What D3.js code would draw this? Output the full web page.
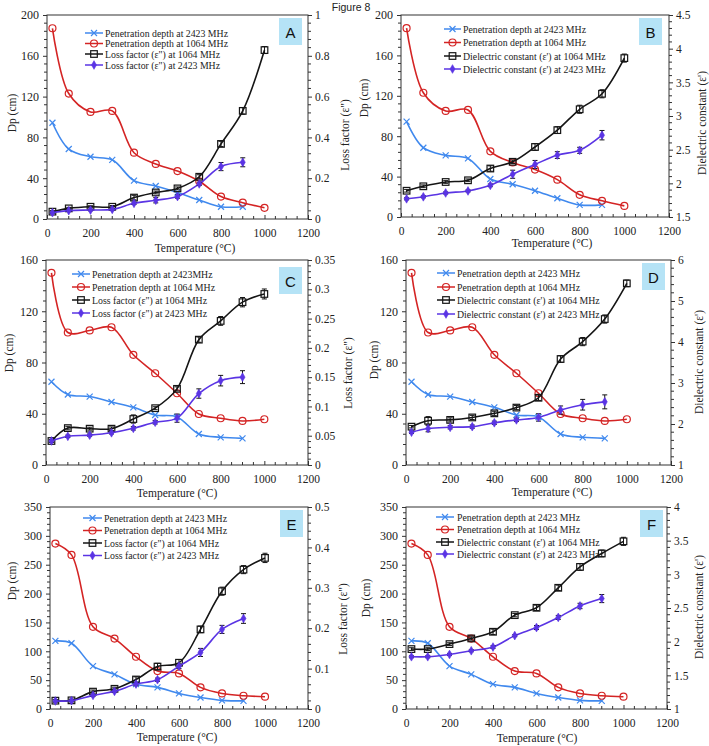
<!DOCTYPE html>
<html><head><meta charset="utf-8">
<script src="https://cdn.jsdelivr.net/npm/d3@7"></script>
<style>body{margin:0;background:#fff} svg{display:block}</style>
</head><body>
<script>
// ---------- DATA ----------
const temps = [25, 100, 200, 300, 400, 500, 600, 700, 800, 900, 1000];
const xTicks = [0, 200, 400, 600, 800, 1000, 1200];

// Panels A & B (penetration depth, cm)
const dpAB_2423 = [94.4, 68.6, 61, 58, 37.6, 32.4, 26, 18.6, 12, 12];
const dpAB_1064 = [187, 123, 105, 106, 65, 54, 47, 37, 22, 16, 11];
// Panel A loss factor
const lossA_1064 = [0.036, 0.052, 0.06, 0.06, 0.105, 0.13, 0.15, 0.207, 0.368, 0.53, 0.828];
const lossA_1064_err = [0.005, 0.005, 0.005, 0.006, 0.011, 0.007, 0.007, 0.01, 0.013, 0.016, 0.017];
const lossA_2423 = [0.031, 0.041, 0.044, 0.047, 0.077, 0.092, 0.11, 0.172, 0.257, 0.278];
const lossA_2423_err = [0.004, 0.004, 0.004, 0.004, 0.006, 0.013, 0.008, 0.008, 0.02, 0.022];
// Panel B dielectric constant
const dielB_1064 = [1.89, 1.956, 2.02, 2.045, 2.22, 2.32, 2.54, 2.79, 3.10, 3.33, 3.86];
const dielB_1064_err = [0.02, 0.02, 0.02, 0.02, 0.04, 0.025, 0.05, 0.05, 0.06, 0.06, 0.06];
const dielB_2423 = [1.77, 1.80, 1.857, 1.887, 1.97, 2.135, 2.28, 2.42, 2.49, 2.715];
const dielB_2423_err = [0.015, 0.015, 0.015, 0.015, 0.02, 0.06, 0.06, 0.05, 0.045, 0.07];

// Panels C & D
const dpCD_2423 = [65, 55, 53.4, 49.2, 45, 39, 37.5, 24.2, 21.6, 20.8];
const dpCD_1064 = [150, 103.4, 105, 107.5, 86, 71.6, 56, 39.8, 36.5, 34.4, 35.7];
const lossC_1064 = [0.041, 0.063, 0.062, 0.062, 0.0785, 0.097, 0.13, 0.214, 0.246, 0.278, 0.292];
const lossC_1064_err = [0.0025, 0.003, 0.0025, 0.003, 0.007, 0.0025, 0.0035, 0.0045, 0.0075, 0.008, 0.0085];
const lossC_2423 = [0.041, 0.049, 0.051, 0.055, 0.0626, 0.073, 0.08, 0.122, 0.144, 0.150];
const lossC_2423_err = [0.002, 0.002, 0.002, 0.002, 0.003, 0.003, 0.007, 0.008, 0.009, 0.011];
const dielD_1064 = [1.935, 2.08, 2.10, 2.16, 2.26, 2.40, 2.64, 3.585, 4.01, 4.56, 5.43];
const dielD_1064_err = [0.03, 0.1, 0.05, 0.05, 0.05, 0.05, 0.065, 0.08, 0.1, 0.1, 0.08];
const dielD_2423 = [1.80, 1.89, 1.92, 1.935, 2.03, 2.10, 2.16, 2.34, 2.47, 2.54];
const dielD_2423_err = [0.03, 0.08, 0.04, 0.04, 0.04, 0.04, 0.09, 0.1, 0.13, 0.17];

// Panels E & F
const dpEF_2423 = [118, 114, 74.4, 60, 43, 37.5, 27, 20, 15, 14];
const dpEF_1064 = [286.6, 267, 142.4, 122, 90.5, 65.7, 61.7, 37.5, 27, 23, 21.3];
const lossE_1064 = [0.0206, 0.0214, 0.043, 0.050, 0.073, 0.105, 0.1145, 0.197, 0.2916, 0.345, 0.374];
const lossE_1064_err = [0.003, 0.003, 0.004, 0.004, 0.0066, 0.008, 0.008, 0.008, 0.01, 0.01, 0.0115];
const lossE_2423 = [0.0198, 0.0206, 0.0338, 0.0437, 0.0618, 0.0725, 0.106, 0.140, 0.197, 0.224];
const lossE_2423_err = [0.003, 0.003, 0.003, 0.003, 0.004, 0.004, 0.006, 0.01, 0.01, 0.012];
const dielF_1064 = [1.89, 1.89, 1.964, 2.048, 2.147, 2.394, 2.503, 2.80, 3.11, 3.31, 3.49];
const dielF_1064_err = [0.02, 0.02, 0.02, 0.025, 0.04, 0.025, 0.04, 0.04, 0.05, 0.05, 0.06];
const dielF_2423 = [1.776, 1.776, 1.81, 1.865, 1.92, 2.09, 2.21, 2.36, 2.53, 2.64];
const dielF_2423_err = [0.015, 0.015, 0.015, 0.015, 0.02, 0.015, 0.03, 0.03, 0.04, 0.06];

// Tick labels
const dpTicks200 = [0, 40, 80, 120, 160, 200];
const dpTicks160 = [0, 40, 80, 120, 160];
const dpTicks350 = [0, 50, 100, 150, 200, 250, 300, 350];
const lossTicksA = [0, 0.2, 0.4, 0.6, 0.8, 1];
const dielTicksB = [1.5, 2, 2.5, 3, 3.5, 4, 4.5];
const lossTicksC = [0, 0.05, 0.1, 0.15, 0.2, 0.25, 0.3, 0.35];
const dielTicksD = [1, 2, 3, 4, 5, 6];
const lossTicksE = [0, 0.1, 0.2, 0.3, 0.4, 0.5];
const dielTicksF = [1, 1.5, 2, 2.5, 3, 3.5, 4];

// Legend labels / titles
const legendLoss = ["Penetration depth at 2423 MHz", "Penetration depth at 1064 MHz", "Loss factor (ε\") at 1064 MHz", "Loss factor (ε\") at 2423 MHz"];
const legendLossC = ["Penetration depth at 2423MHz", "Penetration depth at 1064 MHz", "Loss factor (ε\") at 1064 MHz", "Loss factor (ε\") at 2423 MHz"];
const legendDiel = ["Penetration depth at 2423 MHz", "Penetration depth at 1064 MHz", "Dielectric constant (ε') at 1064 MHz", "Dielectric constant (ε') at 2423 MHz"];
const titleLoss = "Loss factor (ε\")";
const titleDiel = "Dielectric constant (ε')";
const titleDp = "Dp (cm)";
const titleX = "Temperature (°C)";
const figTitle = "Figure 8";

// ---------- STYLE ----------
const COL = {blue: "#4089ee", red: "#d42424", black: "#151515", purple: "#5a34e4"};
const SERIF = "'Liberation Serif','Times New Roman',serif";
const SANS = "'Liberation Sans',Arial,sans-serif";

const panels = [
  {id: "A", left: 47, right: 308, top: 15, bottom: 219,
   lDom: [0, 200], lTicks: dpTicks200, rDom: [0, 1], rTicks: lossTicksA, rTitle: titleLoss, legend: legendLoss,
   s: [dpAB_2423, dpAB_1064, lossA_1064, lossA_2423], e: [lossA_1064_err, lossA_2423_err],
   leg: {x1: 85, x2: 103, tx: 105, rows: [33, 43.5, 54, 65]}, box: [279, 18],
   lt: [12, 113], rt: [345, 135], xt: [195, 248]},
  {id: "B", left: 401, right: 669, top: 15, bottom: 217,
   lDom: [0, 200], lTicks: dpTicks200, rDom: [1.5, 4.5], rTicks: dielTicksB, rTitle: titleDiel, legend: legendDiel,
   s: [dpAB_2423, dpAB_1064, dielB_1064, dielB_2423], e: [dielB_1064_err, dielB_2423_err],
   leg: {x1: 444, x2: 461, tx: 463, rows: [29, 42.5, 56, 69]}, box: [639, 18],
   lt: [364, 98], rt: [702, 123], xt: [552, 243]},
  {id: "C", left: 46, right: 308, top: 260, bottom: 465,
   lDom: [0, 160], lTicks: dpTicks160, rDom: [0, 0.35], rTicks: lossTicksC, rTitle: titleLoss, legend: legendLossC,
   s: [dpCD_2423, dpCD_1064, lossC_1064, lossC_2423], e: [lossC_1064_err, lossC_2423_err],
   leg: {x1: 72, x2: 90, tx: 92, rows: [274, 287, 300, 313]}, box: [279, 267],
   lt: [9, 353], rt: [348, 373], xt: [177, 493]},
  {id: "D", left: 406, right: 671, top: 260, bottom: 465,
   lDom: [0, 160], lTicks: dpTicks160, rDom: [1, 6], rTicks: dielTicksD, rTitle: titleDiel, legend: legendDiel,
   s: [dpCD_2423, dpCD_1064, dielD_1064, dielD_2423], e: [dielD_1064_err, dielD_2423_err],
   leg: {x1: 437, x2: 455, tx: 457, rows: [273, 287, 300, 314]}, box: [642, 263],
   lt: [374, 360], rt: [699, 362], xt: [552, 492]},
  {id: "E", left: 50, right: 308, top: 507, bottom: 709,
   lDom: [0, 350], lTicks: dpTicks350, rDom: [0, 0.5], rTicks: lossTicksE, rTitle: titleLoss, legend: legendLoss,
   s: [dpEF_2423, dpEF_1064, lossE_1064, lossE_2423], e: [lossE_1064_err, lossE_2423_err],
   leg: {x1: 83, x2: 102, tx: 104, rows: [518, 530.5, 543, 555.5]}, box: [280, 510],
   lt: [12, 581], rt: [343, 619], xt: [177, 737]},
  {id: "F", left: 406, right: 667, top: 507, bottom: 709,
   lDom: [0, 350], lTicks: dpTicks350, rDom: [1, 4], rTicks: dielTicksF, rTitle: titleDiel, legend: legendDiel,
   s: [dpEF_2423, dpEF_1064, dielF_1064, dielF_2423], e: [dielF_1064_err, dielF_2423_err],
   leg: {x1: 436, x2: 454, tx: 457, rows: [517, 529.5, 542, 554]}, box: [640, 510],
   lt: [366, 598], rt: [699, 607], xt: [537, 738]}
];

const svg = d3.select("body").append("svg").attr("width", 709).attr("height", 746)
  .style("font-family", SERIF);

svg.append("text").attr("x", 351).attr("y", 7).attr("text-anchor", "middle")
  .attr("dominant-baseline", "central").style("font-family", SANS).style("font-size", "10.5px")
  .attr("fill", "#222").text(figTitle);

function minors(ticks, n) {
  const out = [];
  for (let i = 0; i < ticks.length - 1; i++) {
    const a = ticks[i], b = ticks[i + 1];
    for (let k = 1; k < n; k++) out.push(a + (b - a) * k / n);
  }
  return out;
}

function marker(g, type, cx, cy) {
  if (type === 0) {
    g.append("path").attr("d", `M${cx-3},${cy-3}L${cx+3},${cy+3}M${cx-3},${cy+3}L${cx+3},${cy-3}`)
      .attr("stroke", COL.blue).attr("stroke-width", 1.2).attr("fill", "none");
  } else if (type === 1) {
    g.append("circle").attr("cx", cx).attr("cy", cy).attr("r", 3.5)
      .attr("stroke", COL.red).attr("stroke-width", 1.2).attr("fill", "none");
  } else if (type === 2) {
    g.append("rect").attr("x", cx - 3.3).attr("y", cy - 3.3).attr("width", 6.6).attr("height", 6.6)
      .attr("stroke", COL.black).attr("stroke-width", 1.2).attr("fill", "none");
  } else {
    g.append("path").attr("d", d3.symbol(d3.symbolDiamond, 22)()).attr("transform", `translate(${cx},${cy})`)
      .attr("fill", COL.purple).attr("stroke", COL.purple).attr("stroke-width", 0.6);
  }
}

panels.forEach(p => {
  const g = svg.append("g");
  const x = d3.scaleLinear().domain([0, 1200]).range([p.left, p.right]);
  const yL = d3.scaleLinear().domain(p.lDom).range([p.bottom, p.top]);
  const yR = d3.scaleLinear().domain(p.rDom).range([p.bottom, p.top]);
  const fmt = d3.format("~g");

  // minor ticks
  const mg = g.append("g").attr("stroke", "#333").attr("stroke-width", 1);
  minors(p.lTicks, 5).forEach(v => mg.append("line").attr("x1", p.left - 3).attr("x2", p.left).attr("y1", yL(v)).attr("y2", yL(v)));
  minors(p.rTicks, 5).forEach(v => mg.append("line").attr("x1", p.right).attr("x2", p.right + 3).attr("y1", yR(v)).attr("y2", yR(v)));
  minors(xTicks, 4).forEach(v => mg.append("line").attr("x1", x(v)).attr("x2", x(v)).attr("y1", p.bottom).attr("y2", p.bottom - 3));

  // axes
  const styleAxis = (size) => sel => {
    sel.select(".domain").remove();
    sel.selectAll("line").attr("stroke", "#333");
    sel.selectAll("text").style("font-family", SERIF).style("font-size", size).attr("fill", "#222");
  };
  g.append("g").attr("transform", `translate(${p.left},0)`)
    .call(d3.axisLeft(yL).tickValues(p.lTicks).tickFormat(fmt).tickSize(4).tickPadding(4)).call(styleAxis("12px"));
  g.append("g").attr("transform", `translate(${p.right},0)`)
    .call(d3.axisRight(yR).tickValues(p.rTicks).tickFormat(fmt).tickSize(4).tickPadding(3)).call(styleAxis("11.5px"));
  g.append("g").attr("transform", `translate(0,${p.bottom})`)
    .call(d3.axisBottom(x).tickValues(xTicks).tickFormat(fmt).tickSize(-4).tickPadding(10)).call(styleAxis("11.5px"));

  // frame
  g.append("rect").attr("x", p.left).attr("y", p.top).attr("width", p.right - p.left).attr("height", p.bottom - p.top)
    .attr("fill", "none").attr("stroke", "#333").attr("stroke-width", 1);

  // titles
  g.append("text").attr("transform", `translate(${p.lt[0]},${p.lt[1]}) rotate(-90)`).attr("text-anchor", "middle")
    .attr("dominant-baseline", "central").style("font-size", "11.5px").attr("fill", "#222").text(titleDp);
  g.append("text").attr("transform", `translate(${p.rt[0]},${p.rt[1]}) rotate(-90)`).attr("text-anchor", "middle")
    .attr("dominant-baseline", "central").style("font-size", "11.5px").attr("fill", "#222").text(p.rTitle);
  g.append("text").attr("x", p.xt[0]).attr("y", p.xt[1]).attr("text-anchor", "middle")
    .attr("dominant-baseline", "central").style("font-size", "11.5px").attr("fill", "#222").text(titleX);

  // series
  const colors = [COL.blue, COL.red, COL.black, COL.purple];
  const scales = [yL, yL, yR, yR];
  p.s.forEach((vals, si) => {
    const ys = scales[si];
    const pts = vals.map((v, i) => [x(temps[i]), ys(v)]);
    g.append("path").attr("d", d3.line().curve(d3.curveCatmullRom.alpha(0.5))(pts))
      .attr("fill", "none").attr("stroke", colors[si]).attr("stroke-width", 1.6);
    if (si >= 2) {
      const errs = p.e[si - 2];
      const eg = g.append("g").attr("stroke", COL.black).attr("stroke-width", 1);
      vals.forEach((v, i) => {
        const cx = x(temps[i]), y1 = ys(v - errs[i]), y2 = ys(v + errs[i]);
        eg.append("line").attr("x1", cx).attr("x2", cx).attr("y1", y1).attr("y2", y2);
        eg.append("line").attr("x1", cx - 2.5).attr("x2", cx + 2.5).attr("y1", y1).attr("y2", y1);
        eg.append("line").attr("x1", cx - 2.5).attr("x2", cx + 2.5).attr("y1", y2).attr("y2", y2);
      });
    }
    const mgp = g.append("g");
    pts.forEach(pt => marker(mgp, si, pt[0], pt[1]));
  });

  // legend
  p.legend.forEach((lab, i) => {
    const y = p.leg.rows[i];
    g.append("line").attr("x1", p.leg.x1).attr("x2", p.leg.x2).attr("y1", y).attr("y2", y)
      .attr("stroke", colors[i]).attr("stroke-width", 1.5);
    marker(g, i, (p.leg.x1 + p.leg.x2) / 2, y);
    g.append("text").attr("x", p.leg.tx).attr("y", y).attr("dominant-baseline", "central")
      .style("font-size", "9.8px").attr("fill", "#222").text(lab);
  });

  // panel letter
  g.append("rect").attr("x", p.box[0]).attr("y", p.box[1]).attr("width", 23).attr("height", 27).attr("fill", "#b5e3f6");
  g.append("text").attr("x", p.box[0] + 11.5).attr("y", p.box[1] + 14).attr("text-anchor", "middle")
    .attr("dominant-baseline", "central").style("font-family", SANS).style("font-size", "15px").attr("fill", "#111").text(p.id);
});
</script>
</body></html>
